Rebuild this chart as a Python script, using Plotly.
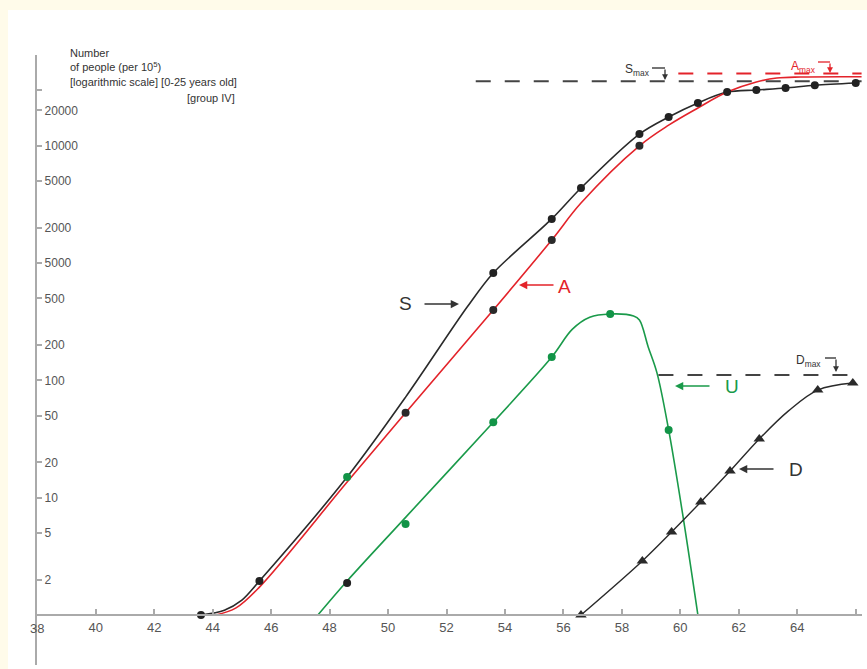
import plotly.graph_objects as go
import numpy as np

# ---------------- data ----------------
# S curve (black)
s_curve_x = [43.6, 44.4, 45.0, 45.6, 48.6, 50.6, 52.7, 53.6, 55.6, 56.6, 58.6, 59.6, 60.6, 61.6, 62.6, 63.6, 64.6, 66.0]
s_curve_y = [1, 1.1, 1.34, 1.95, 15, 72, 420, 824, 2380, 4370, 12600, 17600, 23200, 28700, 29900, 31100, 32800, 34300]
s_pts_x = [43.6, 45.6, 48.6, 53.6, 55.6, 56.6, 58.6, 59.6, 60.6, 61.6, 62.6, 63.6, 64.6, 66.0]
s_pts_y = [1, 1.95, 15, 824, 2380, 4370, 12600, 17600, 23200, 28700, 29900, 31100, 32800, 34300]
s_pts_color = ["#222", "#222", "#129447", "#222", "#222", "#222", "#222", "#222", "#222", "#222", "#222", "#222", "#222", "#222"]

# A curve (red)
a_curve_x = [44.1, 44.8, 45.6, 48.6, 50.6, 53.6, 55.6, 56.6, 58.6, 59.6, 60.6, 61.6, 62.6, 63.3, 64.1, 66.2]
a_curve_y = [1, 1.15, 1.73, 13.6, 53, 398, 1574, 3250, 10000, 15000, 21000, 28700, 35000, 37800, 38600, 38800]
a_pts_x = [50.6, 53.6, 55.6, 58.6]
a_pts_y = [53, 398, 1574, 10000]

# U curve (green)
u_curve_x = [47.6, 48.6, 50.6, 53.6, 55.6, 56.3, 56.9, 57.6, 58.4, 58.6, 58.9, 59.2, 59.6, 60.1, 60.6]
u_curve_y = [1, 1.95, 6.8, 44, 158, 272, 345, 368, 354, 327, 193, 116, 37.8, 6.7, 1]
u_pts_x = [48.6, 50.6, 53.6, 55.6, 57.6, 59.6]
u_pts_y = [1.87, 5.97, 44, 158, 368, 37.8]
u_pts_color = ["#222", "#129447", "#129447", "#129447", "#129447", "#129447"]

# D curve (black, triangles)
d_curve_x = [56.6, 58.7, 59.7, 60.7, 61.7, 62.7, 63.7, 64.7, 65.9]
d_curve_y = [1, 2.89, 5.1, 9.2, 16.9, 31.7, 55, 82.8, 95]
d_pts_x = [56.6, 58.7, 59.7, 60.7, 61.7, 62.7, 64.7, 65.9]
d_pts_y = [1, 2.89, 5.1, 9.2, 16.9, 31.7, 82.8, 95]

# maximum levels
s_max_x = [53.0, 66.2]
s_max_y = [35500, 35500]
a_max_x = [59.93, 66.2]
a_max_y = [41300, 41300]
d_max_x = [59.25, 65.8]
d_max_y = [111, 111]

# axis ticks
x_tickvals = [38, 40, 42, 44, 46, 48, 50, 52, 54, 56, 58, 60, 62, 64, 66]
x_ticktext = ["38", "40", "42", "44", "46", "48", "50", "52", "54", "56", "58", "60", "62", "64", ""]
y_tickvals = [2, 5, 10, 20, 50, 100, 200, 500, 1000, 2000, 5000, 10000, 20000, 30000]
y_ticktext = ["2", "5", "10", "20", "50", "100", "200", "500", "5000", "2000", "5000", "10000", "20000", ""]

# ---------------- styling ----------------
BLACK = "#2a2a2a"
RED = "#e3232a"
GREEN = "#1a9a4a"
AXIS = "#aaaaaa"
FONT = "Liberation Sans, Arial, sans-serif"

W_FIG, H_FIG = 867, 669
L, R, T, B = 37, 5, 55, 4
PW, PH = W_FIG - L - R, H_FIG - T - B
X0 = 37.99


def pxx(xp):
    return (xp - L) / PW


def pxy(yp):
    return (T + PH - yp) / PH


fig = go.Figure()

fig.add_trace(go.Scatter(x=s_curve_x, y=s_curve_y, mode="lines",
                         line=dict(color=BLACK, width=1.6, shape="spline", smoothing=0.9)))
fig.add_trace(go.Scatter(x=a_curve_x, y=a_curve_y, mode="lines",
                         line=dict(color=RED, width=1.6, shape="spline", smoothing=1.0)))
fig.add_trace(go.Scatter(x=u_curve_x, y=u_curve_y, mode="lines",
                         line=dict(color=GREEN, width=1.6, shape="spline", smoothing=1.0)))
fig.add_trace(go.Scatter(x=d_curve_x, y=d_curve_y, mode="lines",
                         line=dict(color=BLACK, width=1.4, shape="spline", smoothing=1.0)))

for xs, ys, col in [(s_max_x, s_max_y, "#444444"), (a_max_x, a_max_y, RED), (d_max_x, d_max_y, "#444444")]:
    fig.add_trace(go.Scatter(x=xs, y=ys, mode="lines",
                             line=dict(color=col, width=2, dash="15px,14px")))

fig.add_trace(go.Scatter(x=s_pts_x, y=s_pts_y, mode="markers",
                         marker=dict(color=s_pts_color, size=8, line=dict(width=0))))
fig.add_trace(go.Scatter(x=a_pts_x, y=a_pts_y, mode="markers",
                         marker=dict(color=BLACK, size=8, line=dict(width=0))))
fig.add_trace(go.Scatter(x=u_pts_x, y=u_pts_y, mode="markers",
                         marker=dict(color=u_pts_color, size=8, line=dict(width=0))))
fig.add_trace(go.Scatter(x=d_pts_x, y=d_pts_y, mode="markers",
                         marker=dict(color=BLACK, size=10, symbol="triangle-up", line=dict(width=0))))

y_lo = (615 - (T + PH)) / 117.3
y_hi = (615 - T) / 117.3

fig.update_layout(
    width=W_FIG, height=H_FIG,
    margin=dict(l=L, r=R, t=T, b=B),
    paper_bgcolor="#fffbea",
    plot_bgcolor="white",
    showlegend=False,
    font=dict(family=FONT, color="#444"),
    xaxis=dict(range=[X0, X0 + PW / 29.23], showgrid=False, zeroline=False,
               tickvals=x_tickvals, ticktext=x_ticktext,
               ticks="inside", ticklen=5, tickwidth=1.5, tickcolor=AXIS,
               showline=True, linecolor=AXIS, linewidth=2,
               anchor="free", position=(0 - y_lo) / (y_hi - y_lo),
               tickfont=dict(size=13, color="#555", family=FONT)),
    yaxis=dict(type="log", range=[y_lo, y_hi], showgrid=False, zeroline=False,
               tickvals=y_tickvals, ticktext=y_ticktext,
               ticks="inside", ticklen=5, tickwidth=1.5, tickcolor=AXIS,
               ticklabelposition="inside", ticklabelstandoff=2,
               showline=True, linecolor=AXIS, linewidth=2,
               tickfont=dict(size=12, color="#555", family=FONT)),
)

shapes = [
    dict(type="rect", xref="paper", yref="paper", x0=pxx(8), x1=pxx(875), y0=pxy(680), y1=pxy(10),
         fillcolor="white", line=dict(width=0), layer="below"),
    # bracket horizontals
    dict(type="line", xref="paper", yref="paper", x0=pxx(652), x1=pxx(665), y0=pxy(68), y1=pxy(68),
         line=dict(color=BLACK, width=1.3)),
    dict(type="line", xref="paper", yref="paper", x0=pxx(818), x1=pxx(830), y0=pxy(62), y1=pxy(62),
         line=dict(color=RED, width=1.3)),
    dict(type="line", xref="paper", yref="paper", x0=pxx(825), x1=pxx(836), y0=pxy(358), y1=pxy(358),
         line=dict(color=BLACK, width=1.3)),
]
fig.update_layout(shapes=shapes)

ann = []
# title block
ann.append(dict(xref="paper", yref="paper", x=pxx(68), y=pxy(45), xanchor="left", yanchor="top",
                align="left", showarrow=False,
                text="Number<br>of people (per 10<sup>5</sup>)<br>[logarithmic scale] [0-25 years old]",
                font=dict(size=11, color="#333", family=FONT)))
ann.append(dict(xref="paper", yref="paper", x=pxx(185), y=pxy(98), xanchor="left", yanchor="middle",
                showarrow=False, text="[group IV]", font=dict(size=11, color="#333", family=FONT)))

# first x tick label (sits on the y axis line)
ann.append(dict(xref="x", yref="paper", x=x_tickvals[0], y=pxy(628), xanchor="center", yanchor="middle",
                showarrow=False, text=x_ticktext[0], font=dict(size=13, color="#555", family=FONT)))

# curve letters and arrows
for txt, cx, cy, col, tip, tail, ty in [
    ("S", 405, 303, "#333", 459, 423, 304),
    ("A", 564, 286, RED, 519, 555, 285),
    ("U", 732, 386, GREEN, 675, 711, 386),
    ("D", 796, 469, "#333", 739, 775, 469),
]:
    ann.append(dict(xref="paper", yref="paper", x=pxx(cx), y=pxy(cy), showarrow=False, text=txt,
                    xanchor="center", yanchor="middle", font=dict(size=19, color=col, family=FONT)))
    ann.append(dict(xref="paper", yref="paper", x=pxx(tip), y=pxy(ty), showarrow=True, text="",
                    ax=tail - tip, ay=0, arrowhead=2, arrowsize=1.1, arrowwidth=1.5,
                    arrowcolor=col, standoff=0))

# max labels with bracket arrows
for txt, rx, ry, col, bx, by0, by1 in [
    ("S<sub>max</sub>", 652, 70, "#333", 665, 68, 80),
    ("A<sub>max</sub>", 818, 67, RED, 830, 62, 73),
    ("D<sub>max</sub>", 823, 361, "#333", 836, 358, 372),
]:
    ann.append(dict(xref="paper", yref="paper", x=pxx(rx), y=pxy(ry), showarrow=False, text=txt,
                    xanchor="right", yanchor="middle", font=dict(size=12, color=col, family=FONT)))
    ann.append(dict(xref="paper", yref="paper", x=pxx(bx), y=pxy(by1), showarrow=True, text="",
                    ax=0, ay=-(by1 - by0), arrowhead=2, arrowsize=0.9, arrowwidth=1.3,
                    arrowcolor=col, standoff=0))

fig.update_layout(annotations=ann)

fig.write_html("out.html")
